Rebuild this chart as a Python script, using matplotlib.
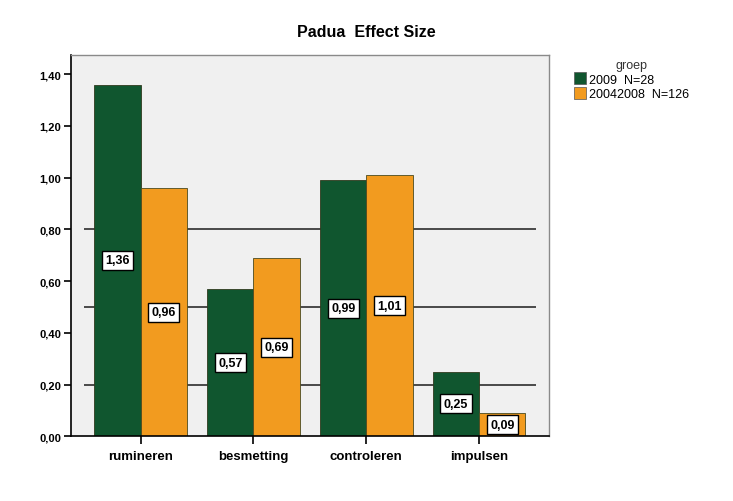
import numpy as np
import matplotlib
matplotlib.use("Agg")
from matplotlib import pyplot as plt
from matplotlib.patches import Patch

plt.rcParams['font.family'] = ['Liberation Sans', 'DejaVu Sans']

categories = ["rumineren", "besmetting", "controleren", "impulsen"]
groep_2009 = [1.36, 0.57, 0.99, 0.25]
groep_0408 = [0.96, 0.69, 1.01, 0.09]
series_names = ["2009  N=28", "20042008  N=126"]
yticks = [0.0, 0.2, 0.4, 0.6, 0.8, 1.0, 1.2, 1.4]
ref_lines = [0.2, 0.5, 0.8]

green = "#10562F"
orange = "#F29B1F"

fig = plt.figure(figsize=(7.33, 5.02), dpi=100)
ax = fig.add_axes([0.0962, 0.1289, 0.653, 0.760])
ax.set_facecolor("#F0F0F0")

x = np.arange(len(categories))
w = 0.41

# reference lines for effect size (small / medium / large)
ax.hlines(ref_lines, -0.5, 3.5, color="#3c3c3c", lw=1.3, zorder=1)

b1 = ax.bar(x - w / 2, groep_2009, w, color=green, edgecolor="#2f3a1e", lw=0.6, zorder=2)
b2 = ax.bar(x + w / 2, groep_0408, w, color=orange, edgecolor="#4a4a20", lw=0.6, zorder=2)

box = dict(boxstyle="square,pad=0.28", fc="white", ec="black", lw=1.0)
for bars, vals in [(b1, groep_2009), (b2, groep_0408)]:
    for rect, v in zip(bars, vals):
        ax.text(rect.get_x() + rect.get_width() / 2, v / 2, f"{v:.2f}".replace(".", ","),
                ha="center", va="center", fontsize=9, fontweight="bold", bbox=box, zorder=3)

ax.set_xlim(-0.62, 3.62)
ax.set_ylim(0, 1.475)
ax.set_xticks(x)
ax.set_xticklabels(categories, fontsize=9.5, fontweight="bold")
ax.set_yticks(yticks)
ax.set_yticklabels([f"{t:.2f}".replace(".", ",") for t in yticks], fontsize=8, fontweight="bold")
ax.tick_params(axis="y", length=5, width=1.2, pad=1.5)
ax.tick_params(axis="x", length=6, width=1.2, pad=4)

for s in ["left", "bottom"]:
    ax.spines[s].set_color("black")
    ax.spines[s].set_linewidth(1.2)
for s in ["top", "right"]:
    ax.spines[s].set_color("#8a8a8a")
    ax.spines[s].set_linewidth(1.0)

fig.text(0.5, 0.936, "Padua  Effect Size", ha="center", va="center", fontsize=11.5, fontweight="bold")

handles = [Patch(fc=green, ec="#555555", lw=0.5), Patch(fc=orange, ec="#555555", lw=0.5)]
leg = fig.legend(handles, series_names, title="groep", loc="upper left",
                 bbox_to_anchor=(0.776, 0.89), frameon=False, fontsize=9,
                 title_fontsize=9, handlelength=1.0, handleheight=1.1,
                 handletextpad=0.25, labelspacing=0.1, borderaxespad=0)
leg.get_title().set_color("#333333")

fig.savefig("out.png", dpi=100)
